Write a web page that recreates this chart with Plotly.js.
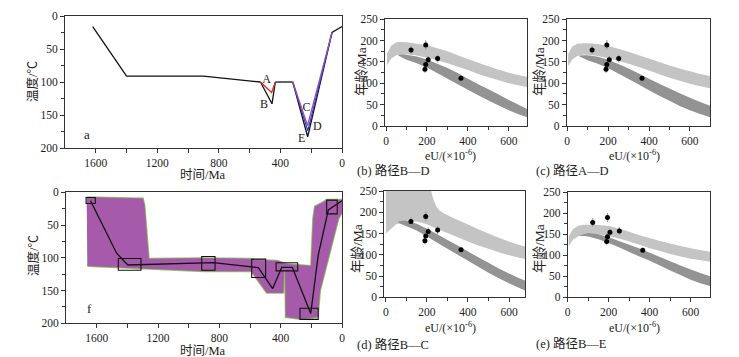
<!DOCTYPE html>
<html><head><meta charset="utf-8">
<script src="https://cdn.plot.ly/plotly-3.0.1.min.js"></script>
<style>html,body{margin:0;padding:0;background:#fff}#chart{width:739px;height:357px}</style>
</head><body><div id="chart"></div>
<script>
// ---------- Panel a : thermal-history paths ----------
const commonTime = [1620, 1400, 900, 530];
const commonTemp = [16, 91, 91, 100];
const pathATime = [530, 457, 433]; const pathATemp = [100, 116, 100];
const pathBTime = [530, 455, 433]; const pathBTemp = [100, 133, 100];
const midTime = [433, 320]; const midTemp = [100, 100];
const pathCTime = [320, 224, 65]; const pathCTemp = [100, 166, 25];
const pathDTime = [320, 222, 65]; const pathDTemp = [100, 174, 25];
const pathETime = [320, 223, 65, 0]; const pathETemp = [100, 183, 25, 16];
const pathLabels = ['A', 'B', 'C', 'D', 'E'];
const labelTime = [490, 506, 230, 161, 262];
const labelTemp = [97, 135, 140, 168, 186];

// ---------- Panel f : inversion results ----------
const bestTime = [1640, 1470, 1397, 839, 546, 452, 393, 324, 204, 155, 89, 0];
const bestTemp = [13, 93, 111, 107.5, 115, 147, 114.5, 114.5, 185, 96, 27, 13];
const envTime = [1665, 1300, 1290, 1262, 900, 600, 560, 420, 365, 200, 186, 175, 110, 100, 0,
                 0, 25, 145, 160, 270, 365, 368, 378, 385, 490, 590, 900, 1260, 1400, 1660];
const envTemp = [8, 10, 20, 102, 101, 102, 104, 105, 110, 113, 40, 22, 14, 12, 12,
                 30, 40, 150, 190, 193, 190, 118, 118, 153, 153, 120, 120, 116, 114, 112];
const boxOld = [1669, 1459, 915, 589, 430, 274, 100];
const boxYoung = [1609, 1311, 828, 498, 289, 155, 31];
const boxTop = [8, 101, 98, 102, 107.5, 177, 12];
const boxBottom = [17, 119, 119, 130, 120, 194, 33];

// ---------- Panels b-e : age vs eU ----------
const sampleEU = [122, 194, 206, 194, 190, 252, 366];
const sampleAge = [178, 190, 155, 144, 133, 158, 112];
const sampleErr = [10, 11, 9, 8, 8, 9, 6];

const bandEU = [5, 25, 50, 75, 100, 150, 200, 250, 300, 350, 400, 450, 500, 550, 600, 650, 700];
const darkEU = [60, 80, 100, 150, 200, 250, 300, 350, 400, 450, 500, 550, 600, 650, 700];

const bLightTop = [170, 188, 196, 197, 196, 193, 189, 182, 175, 166, 157, 148, 140, 132, 125, 119, 114];
const bLightBot = [142, 158, 166, 168, 168, 165, 160, 154, 147, 139, 131, 122, 114, 107, 100, 95, 90];
const bDarkTop = [167, 168, 167, 163, 156, 146, 136, 124, 111, 98, 86, 74, 61, 49, 37];
const bDarkBot = [165, 160, 155, 147, 137, 124, 111, 98, 85, 72, 60, 48, 37, 27, 19];

const cLightTop = [168, 186, 193, 194, 194, 192, 188, 181, 174, 166, 158, 150, 142, 135, 128, 122, 117];
const cLightBot = [140, 156, 164, 167, 167, 164, 159, 153, 146, 138, 130, 121, 113, 106, 99, 93, 88];
const cDarkTop = [165, 166, 166, 162, 155, 145, 135, 123, 111, 99, 88, 77, 66, 56, 47];
const cDarkBot = [163, 159, 154, 146, 136, 123, 110, 97, 84, 71, 59, 47, 37, 28, 20];

const dLightEU = [0, 50, 100, 150, 200, 215, 230, 245, 260, 280, 300, 350, 400, 450, 500, 550, 600, 650, 700];
const dLightTop = [300, 300, 300, 300, 300, 262, 232, 214, 205, 198, 193, 182, 171, 160, 150, 140, 131, 123, 117];
const dLightBot = [150, 172, 180, 178, 172, 168, 165, 162, 159, 155, 151, 141, 131, 122, 114, 106, 99, 93, 88];
const dDarkTop = [178, 180, 180, 173, 161, 148, 135, 122, 108, 94, 81, 68, 56, 45, 35];
const dDarkBot = [175, 171, 167, 157, 143, 128, 114, 100, 86, 72, 58, 45, 33, 22, 11];

const eLightTop = [145, 162, 170, 173, 173, 172, 170, 164, 156, 148, 141, 134, 128, 122, 117, 112, 108];
const eLightBot = [122, 137, 145, 150, 151, 150, 146, 140, 133, 125, 117, 110, 103, 97, 92, 88, 84];
const eDarkTop = [148, 151, 153, 150, 143, 134, 125, 116, 106, 96, 86, 76, 66, 57, 49];
const eDarkBot = [146, 146, 145, 138, 129, 119, 108, 97, 87, 76, 64, 53, 42, 33, 26];

const captions = ['(b) 路径B—D', '(c) 路径A—D', '(d) 路径B—C', '(e) 路径B—E'];

// ---------- helpers ----------
const W = 739, H = 357;
const P = px => px / W, Q = py => 1 - py / H;
const SERIF = 'Liberation Serif, Times New Roman, Noto Sans CJK SC, serif';
const TXT = '#222';

function line(x, y, xa, ya, color, width) {
  return {x: x, y: y, xaxis: xa, yaxis: ya, type: 'scatter', mode: 'lines',
          line: {color: color, width: width}, hoverinfo: 'skip'};
}
function band(eu, top, bot, xa, ya, color) {
  const x = eu.concat(eu.slice().reverse());
  const y = top.concat(bot.slice().reverse());
  return {x: x, y: y, xaxis: xa, yaxis: ya, type: 'scatter', mode: 'none',
          fill: 'toself', fillcolor: color, hoverinfo: 'skip'};
}
function samples(xa, ya) {
  return {x: sampleEU, y: sampleAge, xaxis: xa, yaxis: ya, type: 'scatter', mode: 'markers',
          marker: {color: '#000', size: 5},
          error_y: {type: 'data', array: sampleErr, color: '#9a9a9a', thickness: 1.2, width: 0},
          hoverinfo: 'skip'};
}

const LIGHT = '#c4c4c4', DARK = '#939393';
const traces = [];

// panel a
traces.push(line(commonTime, commonTemp, 'x', 'y', '#111', 1.3));
traces.push(line(pathBTime, pathBTemp, 'x', 'y', '#111', 1.3));
traces.push(line(pathATime, pathATemp, 'x', 'y', '#e3262a', 1.3));
traces.push(line(midTime, midTemp, 'x', 'y', '#111', 1.3));
traces.push(line(pathETime, pathETemp, 'x', 'y', '#111', 1.3));
traces.push(line(pathDTime, pathDTemp, 'x', 'y', '#2b44c8', 1.3));
traces.push(line(pathCTime, pathCTemp, 'x', 'y', '#9a4fb0', 1.3));
traces.push({x: labelTime, y: labelTemp, xaxis: 'x', yaxis: 'y', type: 'scatter', mode: 'text',
             text: pathLabels, textposition: 'middle center',
             textfont: {family: SERIF, size: 12, color: TXT}, hoverinfo: 'skip'});

// panel f
traces.push({x: envTime, y: envTemp, xaxis: 'x2', yaxis: 'y2', type: 'scatter', mode: 'lines',
             fill: 'toself', fillcolor: '#8fcc5c', line: {color: '#8fcc5c', width: 2.6}, hoverinfo: 'skip'});
traces.push({x: envTime, y: envTemp, xaxis: 'x2', yaxis: 'y2', type: 'scatter', mode: 'lines',
             fill: 'toself', fillcolor: '#a65aaa', line: {color: '#a65aaa', width: 0.8}, hoverinfo: 'skip'});
traces.push(line(bestTime, bestTemp, 'x2', 'y2', '#111', 1.3));

// panels b-e
const panelBands = [
  ['x3', 'y3', bandEU, bLightTop, bLightBot, bDarkTop, bDarkBot],
  ['x4', 'y4', bandEU, cLightTop, cLightBot, cDarkTop, cDarkBot],
  ['x5', 'y5', dLightEU, dLightTop, dLightBot, dDarkTop, dDarkBot],
  ['x6', 'y6', bandEU, eLightTop, eLightBot, eDarkTop, eDarkBot]
];
panelBands.forEach(p => {
  traces.push(band(p[2], p[3], p[4], p[0], p[1], LIGHT));
  traces.push(band(darkEU, p[5], p[6], p[0], p[1], DARK));
  traces.push(samples(p[0], p[1]));
});

// ---------- axes ----------
function axis(domain, range, extra) {
  return Object.assign({
    domain: domain, range: range, showline: true, mirror: true, linecolor: '#333', linewidth: 1,
    ticks: 'outside', ticklen: 4, tickwidth: 1, tickcolor: '#333', showgrid: false, zeroline: false,
    tickfont: {family: SERIF, size: 11.5, color: TXT}, fixedrange: true
  }, extra);
}
const xTime = {tickvals: [1600, 1200, 800, 400, 0], minor: {ticks: 'outside', ticklen: 4, tickvals: [1400, 1000, 600, 200], tickcolor: '#333'}};
const yTemp = {dtick: 50, tick0: 0, minor: {ticks: 'outside', ticklen: 3, dtick: 25, tickcolor: '#333'}};
const xEU = {dtick: 200, tick0: 0, minor: {ticks: 'outside', ticklen: 3, dtick: 100, tickcolor: '#333'}};
const yAge = {dtick: 50, tick0: 0, minor: {ticks: 'outside', ticklen: 3, dtick: 25, tickcolor: '#333'}};

const layout = {
  width: W, height: H, margin: {l: 0, r: 0, t: 0, b: 0},
  paper_bgcolor: '#fff', plot_bgcolor: '#fff', showlegend: false,
  xaxis: axis([P(65), P(342)], [1800, 0], Object.assign({anchor: 'y'}, xTime)),
  yaxis: axis([Q(148), Q(16)], [200, 0], Object.assign({anchor: 'x'}, yTemp)),
  xaxis2: axis([P(66), P(342)], [1800, 0], Object.assign({anchor: 'y2'}, xTime)),
  yaxis2: axis([Q(323.3), Q(192.3)], [200, 0], Object.assign({anchor: 'x2'}, yTemp)),
  xaxis3: axis([P(385), P(527.3)], [-5, 690], Object.assign({anchor: 'y3'}, xEU)),
  yaxis3: axis([Q(126), Q(19.3)], [0, 250], Object.assign({anchor: 'x3'}, yAge)),
  xaxis4: axis([P(566.7), P(710)], [-2, 698], Object.assign({anchor: 'y4'}, xEU)),
  yaxis4: axis([Q(126), Q(19.3)], [0, 250], Object.assign({anchor: 'x4'}, yAge)),
  xaxis5: axis([P(384.3), P(525)], [-8, 678], Object.assign({anchor: 'y5'}, xEU)),
  yaxis5: axis([Q(297.3), Q(191)], [0, 250], Object.assign({anchor: 'x5'}, yAge)),
  xaxis6: axis([P(567.7), P(710)], [0, 694], Object.assign({anchor: 'y6'}, xEU)),
  yaxis6: axis([Q(297.3), Q(192.3)], [0, 250], Object.assign({anchor: 'x6'}, yAge)),
  shapes: boxOld.map((t, i) => ({type: 'rect', xref: 'x2', yref: 'y2',
    x0: t, x1: boxYoung[i], y0: boxTop[i], y1: boxBottom[i],
    line: {color: '#111', width: 1.1}, fillcolor: 'rgba(0,0,0,0)'})),
  annotations: []
};

function note(text, px, py, size, opts) {
  layout.annotations.push(Object.assign({
    text: text, x: P(px), y: Q(py), xref: 'paper', yref: 'paper', showarrow: false,
    xanchor: 'center', yanchor: 'middle', font: {family: SERIF, size: size, color: TXT}
  }, opts || {}));
}
// axis titles
note('温度/℃', 33, 82, 12.5, {textangle: -90});
note('时间/Ma', 203, 175, 12.5);
note('温度/℃', 33, 256, 12.5, {textangle: -90});
note('时间/Ma', 203, 351, 12.5);
note('年龄/Ma', 362, 72, 13.5, {textangle: -90});
note('年龄/Ma', 540, 72, 13.5, {textangle: -90});
note('年龄/Ma', 357, 249, 13.5, {textangle: -90});
note('年龄/Ma', 539.5, 248.5, 13.5, {textangle: -90});
const euTitle = 'eU/(×10<sup>-6</sup>)';
note(euTitle, 450, 155, 12);
note(euTitle, 634, 155, 12);
note(euTitle, 450, 327, 12);
note(euTitle, 634, 327, 12);
// captions
note(captions[0], 355, 170, 12.5, {xanchor: 'left'});
note(captions[1], 534, 170, 12.5, {xanchor: 'left'});
note(captions[2], 355, 344, 12.5, {xanchor: 'left'});
note(captions[3], 534, 343.3, 12.5, {xanchor: 'left'});
// panel letters
layout.annotations.push({text: 'a', x: 1655, y: 180, xref: 'x', yref: 'y', showarrow: false,
  font: {family: SERIF, size: 13, color: TXT}});
layout.annotations.push({text: 'f', x: 1648, y: 177, xref: 'x2', yref: 'y2', showarrow: false,
  font: {family: SERIF, size: 13, color: TXT}});

Plotly.newPlot('chart', traces, layout, {staticPlot: true, displayModeBar: false});
</script>
</body></html>
